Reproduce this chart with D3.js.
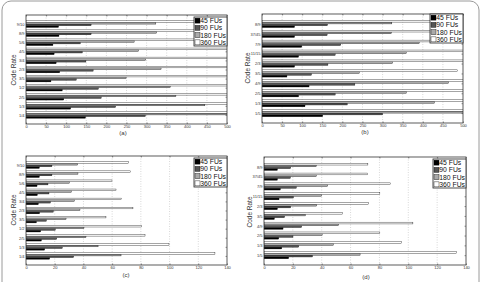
<!DOCTYPE html>
<html><head><meta charset="utf-8">
<script src="https://cdn.jsdelivr.net/npm/d3@7"></script>
<style>html,body{margin:0;padding:0;background:#fff;}svg{display:block;font-family:"Liberation Sans",Arial,sans-serif;}</style>
</head><body>
<svg id="c" width="484" height="282"></svg>
<script>
// ---- data (categories listed bottom to top) ----
const seriesNames = ["45 FUs", "90 FUs", "180 FUs", "360 FUs"];
const ratesA = ["1/4","1/3","2/5","1/2","3/5","2/3","3/4","4/5","5/6","8/9","9/10"];
const ratesB = ["1/5","1/3","2/5","4/9","3/5","2/3","11/15","7/9","37/45","8/9"];
const xTicksBig = [0,50,100,150,200,250,300,350,400,450,500];
const xTicksSmall = [0,20,40,60,80,100,120,140];
const panelLabels = ["(a)","(b)","(c)","(d)"];

const fu45A  = [148, 111, 94, 90, 62, 84, 75, 70, 67, 82, 81];
const fu90A  = [297, 223, 187, 180, 125, 167, 149, 140, 135, 162, 162];
const fu180A = [594, 445, 373, 359, 249, 336, 298, 280, 269, 325, 323];
const fu360A = [1188, 890, 746, 718, 502, 672, 596, 560, 538, 650, 646];

const fu45B  = [151, 107, 91, 117, 62, 81, 91, 99, 81, 81];
const fu90B  = [300, 212, 182, 231, 123, 164, 182, 196, 162, 163];
const fu180B = [600, 429, 359, 464, 242, 325, 359, 391, 322, 323];
const fu360B = [1195, 858, 718, 928, 487, 650, 718, 782, 644, 646];

const fu45C  = [16.5, 13.0, 10.7, 10.2, 7.2, 9.5, 8.6, 7.9, 7.7, 9.3, 9.3];
const fu90C  = [33.2, 25.3, 21.4, 20.4, 14.2, 19.0, 17.0, 16.0, 15.3, 18.1, 18.1];
const fu180C = [66.2, 50.2, 41.8, 40.4, 27.9, 37.6, 33.7, 31.6, 30.2, 36.2, 36.0];
const fu360C = [131.6, 99.6, 82.9, 80.3, 55.7, 74.5, 66.6, 62.7, 59.9, 72.7, 71.5];

const fu45D  = [17.1, 12.3, 10.2, 13.2, 7.2, 9.3, 10.4, 11.3, 9.3, 9.3];
const fu90D  = [33.6, 24.1, 20.1, 26.1, 14.3, 18.5, 20.4, 22.4, 18.3, 18.5];
const fu180D = [66.6, 48.1, 40.3, 51.8, 28.7, 36.6, 40.0, 44.2, 36.3, 36.3];
const fu360D = [133.5, 95.3, 80.3, 103.2, 54.4, 72.4, 80.3, 87.5, 71.7, 72.0];

const fills = ["#000000", "#555555", "#aaaaaa", "#ffffff"];

// ---- layout ----
const panels = [
  {rates: ratesA, series: [fu45A, fu90A, fu180A, fu360A], ticks: xTicksBig,
   box: {l: 26, r: 227, t: 15, b: 124}, ylab: [13.5, 70], lab: [123, 134.5], leg: [194, 17]},
  {rates: ratesB, series: [fu45B, fu90B, fu180B, fu360B], ticks: xTicksBig,
   box: {l: 262, r: 463, t: 14, b: 123}, ylab: [248, 68], lab: [365, 133.5], leg: [430, 14]},
  {rates: ratesA, series: [fu45C, fu90C, fu180C, fu360C], ticks: xTicksSmall,
   box: {l: 26, r: 227, t: 156, b: 265}, ylab: [13.5, 210], lab: [126, 277], leg: [194, 158]},
  {rates: ratesB, series: [fu45D, fu90D, fu180D, fu360D], ticks: xTicksSmall,
   box: {l: 264, r: 466, t: 157, b: 265}, ylab: [250, 212], lab: [366, 278.5], leg: [433, 159]}
];

const svg = d3.select("#c");
// outer frame
svg.append("rect").attr("x", 2).attr("y", 1).attr("width", 477).attr("height", 300)
  .attr("rx", 9).attr("fill", "none").attr("stroke", "#9a9a9a").attr("stroke-width", 1);

panels.forEach((p, pi) => {
  const n = p.rates.length;
  const x = d3.scaleLinear().domain([0, p.ticks[p.ticks.length - 1]]).range([p.box.l, p.box.r]);
  const y = d3.scaleLinear().domain([0, n + 1]).range([p.box.b, p.box.t]);
  const g = svg.append("g");
  const cid = "clip" + pi;
  g.append("clipPath").attr("id", cid).append("rect")
    .attr("x", p.box.l).attr("y", p.box.t).attr("width", p.box.r - p.box.l).attr("height", p.box.b - p.box.t);

  // grid
  g.append("g").selectAll("line").data(p.ticks.slice(1, -1)).join("line")
    .attr("x1", d => x(d)).attr("x2", d => x(d)).attr("y1", p.box.t).attr("y2", p.box.b)
    .attr("stroke", "#b0b0b0").attr("stroke-width", 0.5).attr("stroke-dasharray", "1,1.5");

  // bars
  const gw = 4 / 5.5, bw = gw / 4;
  const bars = [];
  p.series.forEach((s, k) => s.forEach((v, i) => bars.push({k, i, v})));
  g.append("g").attr("clip-path", `url(#${cid})`).selectAll("rect").data(bars).join("rect")
    .attr("x", x(0))
    .attr("y", d => y(d.i + 1 + (d.k - 1.5) * bw + bw / 2))
    .attr("width", d => x(d.v) - x(0))
    .attr("height", d => y(0) - y(bw))
    .attr("fill", d => fills[d.k]).attr("stroke", "#000").attr("stroke-width", 0.35);

  // axes
  const xa = d3.axisBottom(x).tickValues(p.ticks).tickSize(-1.5).tickPadding(1.5).tickFormat(d3.format("d"));
  const xt = d3.axisTop(x).tickValues(p.ticks).tickSize(-1.5).tickFormat("");
  const ya = d3.axisLeft(y).tickValues(d3.range(1, n + 1)).tickSize(-1.5).tickPadding(1.5)
    .tickFormat(d => p.rates[d - 1]);
  const yr = d3.axisRight(y).tickValues(d3.range(1, n + 1)).tickSize(-1.5).tickFormat("");
  const styleAx = sel => {
    sel.select(".domain").remove();
    sel.selectAll("line").attr("stroke", "#333").attr("stroke-width", 0.5);
    sel.selectAll("text").attr("fill", "#333").style("font-size", "4px").style("font-family", "Liberation Sans, Arial, sans-serif");
  };
  g.append("g").attr("transform", `translate(0,${p.box.b})`).call(xa).call(styleAx);
  g.append("g").attr("transform", `translate(0,${p.box.t})`).call(xt).call(styleAx);
  g.append("g").attr("transform", `translate(${p.box.l},0)`).call(ya).call(styleAx);
  g.append("g").attr("transform", `translate(${p.box.r},0)`).call(yr).call(styleAx);
  g.append("rect").attr("x", p.box.l).attr("y", p.box.t).attr("width", p.box.r - p.box.l)
    .attr("height", p.box.b - p.box.t).attr("fill", "none").attr("stroke", "#333").attr("stroke-width", 0.8);

  // labels
  g.append("text").attr("transform", `translate(${p.ylab[0]},${p.ylab[1]}) rotate(-90)`)
    .attr("text-anchor", "middle").attr("dy", "0.35em").attr("fill", "#333")
    .style("font-size", "6.5px").text("Code Rate");
  g.append("text").attr("x", p.lab[0]).attr("y", p.lab[1]).attr("text-anchor", "middle")
    .attr("fill", "#333").style("font-size", "6px").text(panelLabels[pi]);

  // legend
  const lx = p.leg[0], ly = p.leg[1], lw = 33, lh = 29, rh = lh / 4;
  const lg = g.append("g");
  lg.append("rect").attr("x", lx).attr("y", ly).attr("width", lw).attr("height", lh)
    .attr("fill", "#fff").attr("stroke", "#222").attr("stroke-width", 0.8);
  seriesNames.forEach((name, k) => {
    const cy = ly + rh * (k + 0.5);
    lg.append("rect").attr("x", lx + 1).attr("y", cy - 2.5).attr("width", 5).attr("height", 5)
      .attr("fill", fills[k]).attr("stroke", "#000").attr("stroke-width", 0.4);
    lg.append("text").attr("x", lx + 6.3).attr("y", cy).attr("dy", "0.35em")
      .attr("fill", "#111").style("font-size", "6.8px").text(name);
  });
});
</script>
</body></html>
